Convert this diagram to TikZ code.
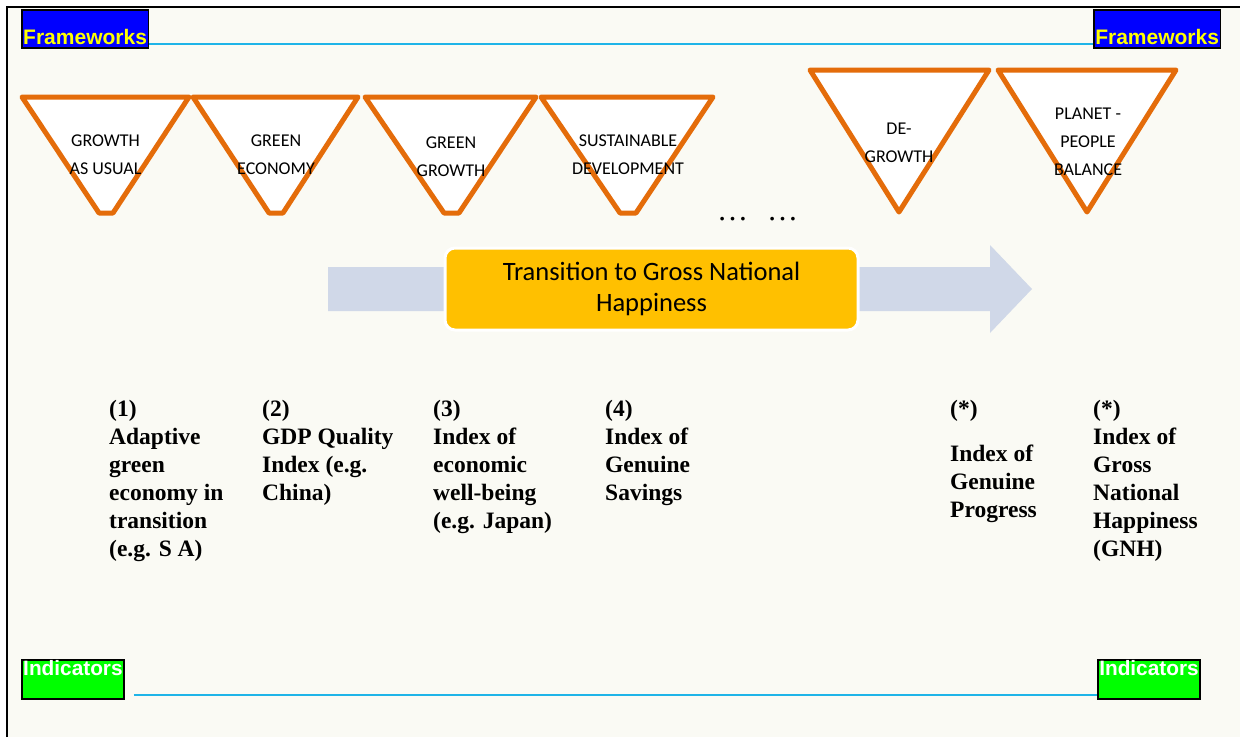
\documentclass[tikz,border=0pt]{standalone}
\usepackage{fontspec}
\setmainfont{Liberation Serif}
\newfontfamily\arialf{Liberation Sans}
\newfontfamily\calf{Carlito}
\definecolor{bg}{RGB}{250,250,244}
\definecolor{orangeline}{RGB}{228,108,10}
\definecolor{cyanline}{RGB}{30,180,232}
\definecolor{arrowfill}{RGB}{208,216,232}
\definecolor{gold}{RGB}{255,192,0}
\definecolor{fwblue}{RGB}{0,0,255}
\definecolor{indgreen}{RGB}{0,255,0}
\definecolor{fwyellow}{RGB}{255,255,0}
\tikzset{
  tri/.style={draw=orangeline, fill=white, line width=5pt, line join=round},
  tritext/.style={anchor=north, inner sep=0pt, align=center, font=\calf\fontsize{18}{28}\selectfont},
  fwbox/.style={anchor=north west, fill=fwblue, draw=black, line width=1.5pt, inner sep=0pt, inner xsep=1.5pt,
    text height=35pt, text depth=3pt, text=fwyellow, font=\arialf\bfseries\fontsize{21}{24}\selectfont},
  indbox/.style={anchor=north west, fill=indgreen, draw=black, line width=1.5pt, inner sep=0pt, inner xsep=1.5pt,
    text height=16pt, text depth=23pt, text=white, font=\arialf\bfseries\fontsize{20.8}{24}\selectfont},
  cyan rule/.style={draw=cyanline, line width=2pt},
  coltext/.style={anchor=north west, inner sep=0pt, align=left, font=\fontsize{23.5}{28}\selectfont\bfseries},
  goldbox/.style={fill=gold, draw=white, line width=3pt, rounded corners=10pt, minimum width=413pt, minimum height=82pt,
    inner sep=0pt, align=center, font=\calf\fontsize{26.5}{31}\selectfont},
  dotstext/.style={anchor=base, inner sep=0pt, font=\fontsize{31}{31}\selectfont},
}
\begin{document}
\begin{tikzpicture}[x=1pt,y=-1pt]
\useasboundingbox (0,0) rectangle (1240,737);
\fill[white] (0,0) rectangle (1240,737);
\fill[bg] (7,7) rectangle (1240,737);
\draw[line width=2pt] (7,737) -- (7,7) -- (1240,7);

% header / footer labels
\node[fwbox] (fw1) at (21,9) {Frameworks};
\node[fwbox] (fw2) at (1093,9) {Frameworks};
\draw[cyan rule] ([yshift=5pt]fw1.south east) -- ([yshift=5pt]fw2.south west);
\node[indbox] (ind1) at (21,659) {Indicators};
\node[indbox] (ind2) at (1097,659) {Indicators};
\draw[cyan rule] ([xshift=9pt,yshift=5pt]ind1.south east) -- ([yshift=5pt]ind2.south west);

% framework funnels
\draw[tri] (22,97) -- (189,97) -- (113,213) -- (99,213) -- cycle;
\draw[tri] (193,97) -- (358,97) -- (283,213) -- (269,213) -- cycle;
\draw[tri] (365,97) -- (536,97) -- (459,213) -- (444,213) -- cycle;
\draw[tri] (541,97) -- (713,97) -- (636,213) -- (620,213) -- cycle;
\draw[tri] (810,70) -- (989,70) -- (899,212) -- cycle;
\draw[tri] (998,70) -- (1176,70) -- (1087,212) -- cycle;

\node[tritext] (t1) at (105.5,126.4) {\strut GROWTH\\AS USUAL};
\node[tritext] (t2) at (276,126.4) {\strut GREEN\\ECONOMY};
\node[tritext] (t3) at (451,128.4) {\strut GREEN\\GROWTH};
\node[tritext] (t4) at (628,126.4) {\strut SUSTAINABLE\\DEVELOPMENT};
\node[tritext] (t5) at (899,114.4) {\strut DE-\\GROWTH};
\node[tritext] (t6) at (1088,99.4) {\strut PLANET -\\PEOPLE\\BALANCE};

\node[dotstext] (d1) at (732.5,220) {…};
\node[dotstext] (d2) at (782.5,220) {…};

% transition arrow
\fill[arrowfill] (328,267) -- (990,267) -- (990,245) -- (1032,289) -- (990,333) -- (990,311) -- (328,311) -- cycle;
\node[goldbox] (gnh) at (651.5,289) {Transition to Gross National\\Happiness};

% indicators
\node[coltext] (c1) at (109,396.4) {\strut(1)\\Adaptive\\green\\economy in\\transition\\(e.g. S A)};
\node[coltext] (c2) at (262,396.4) {\strut(2)\\GDP Quality\\Index (e.g.\\China)};
\node[coltext] (c3) at (433,396.4) {\strut(3)\\Index of\\economic\\well-being\\(e.g. Japan)};
\node[coltext] (c4) at (605,396.4) {\strut(4)\\Index of\\Genuine\\Savings};
\node[coltext] (c5) at (950,396.4) {\strut(*)\\[17pt]Index of\\Genuine\\Progress};
\node[coltext] (c6) at (1093,396.4) {\strut(*)\\Index of\\Gross\\National\\Happiness\\(GNH)};
\end{tikzpicture}
\end{document}
